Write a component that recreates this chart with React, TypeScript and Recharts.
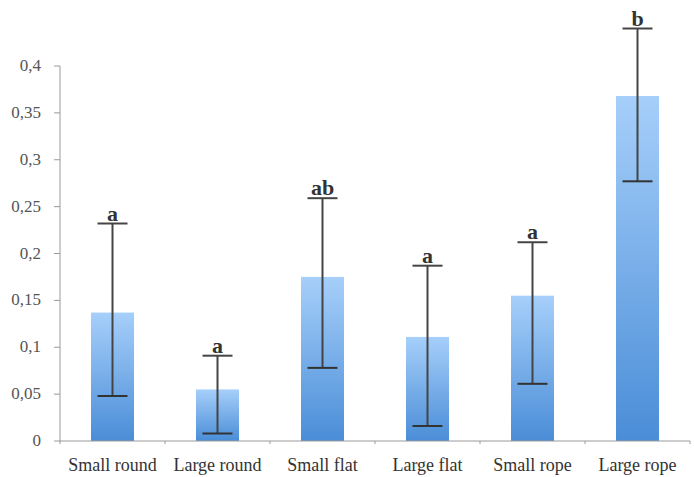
import React from 'react';
import { Bar, BarChart, XAxis, YAxis } from 'recharts';

const categories = ['Small round', 'Large round', 'Small flat', 'Large flat', 'Small rope', 'Large rope'];
const means = [0.137, 0.055, 0.175, 0.111, 0.155, 0.368];
const upper = [0.232, 0.091, 0.259, 0.187, 0.212, 0.44];
const lower = [0.048, 0.008, 0.078, 0.016, 0.061, 0.277];
const letters = ['a', 'a', 'ab', 'a', 'a', 'b'];
const yTicks = [0, 0.05, 0.1, 0.15, 0.2, 0.25, 0.3, 0.35, 0.4];

const data = categories.map((name, i) => ({
  name,
  mean: means[i],
  hi: upper[i],
  lo: lower[i],
  letter: letters[i],
}));

const FONT = "'Liberation Serif', 'Times New Roman', serif";

// bar + error bar + letter, positioned from the bar's own scaled geometry
const BarWithError = (props: any) => {
  const { x, y, width, height, payload } = props;
  const base = y + height;
  const k = height / payload.mean;
  const cx = x + width / 2;
  const yHi = base - payload.hi * k;
  const yLo = base - payload.lo * k;
  const cap = 15;
  return (
    <g>
      <rect x={x} y={y} width={width} height={height} fill="url(#barGrad)" />
      <line x1={cx} x2={cx} y1={yHi} y2={yLo} stroke="#444" strokeWidth={2} />
      <line x1={cx - cap} x2={cx + cap} y1={yHi} y2={yHi} stroke="#444" strokeWidth={2} />
      <line x1={cx - cap} x2={cx + cap} y1={yLo} y2={yLo} stroke="#333" strokeWidth={2} />
      <text
        x={cx}
        y={yHi - 3}
        textAnchor="middle"
        style={{ fontFamily: FONT, fontSize: 22, fontWeight: 'bold' }}
        fill="#333"
      >
        {payload.letter}
      </text>
    </g>
  );
};

const XTick = (props: any) => {
  const { x, y, payload, index, visibleTicksCount, width } = props;
  const bw = width / visibleTicksCount;
  return (
    <g>
      <line x1={x - bw / 2} x2={x - bw / 2} y1={y - 8} y2={y - 5} stroke="#999" />
      {index === visibleTicksCount - 1 && (
        <line x1={x + bw / 2} x2={x + bw / 2} y1={y - 8} y2={y - 5} stroke="#999" />
      )}
      <text x={x} y={y + 22} textAnchor="middle" style={{ fontFamily: FONT, fontSize: 18 }} fill="#333">
        {payload.value}
      </text>
    </g>
  );
};

const YTick = (props: any) => {
  const { x, y, payload } = props;
  return (
    <text x={x - 3} y={y + 5} textAnchor="end" style={{ fontFamily: FONT, fontSize: 17 }} fill="#555">
      {String(payload.value).replace('.', ',')}
    </text>
  );
};

export default function App() {
  return (
    <div style={{ position: 'absolute', left: 0, top: 0, background: '#fff' }}>
      <BarChart
        width={694}
        height={477}
        data={data}
        margin={{ top: 66, right: 4, bottom: 0, left: 0 }}
        barSize={43}
      >
        <defs>
          <linearGradient id="barGrad" x1="0" y1="0" x2="0" y2="1">
            <stop offset="0%" stopColor="#a6cffa" />
            <stop offset="100%" stopColor="#4a8dd7" />
          </linearGradient>
        </defs>
        <XAxis
          dataKey="name"
          axisLine={{ stroke: '#9a9a9a' }}
          tickLine={false}
          tick={<XTick />}
          height={36}
          interval={0}
        />
        <YAxis
          width={60}
          domain={[0, 0.4]}
          ticks={yTicks}
          interval={0}
          axisLine={{ stroke: '#9a9a9a' }}
          tickLine={{ stroke: '#9a9a9a' }}
          tickSize={6}
          tickMargin={10}
          tick={<YTick />}
        />
        <Bar dataKey="mean" shape={<BarWithError />} isAnimationActive={false} />
      </BarChart>
    </div>
  );
}
